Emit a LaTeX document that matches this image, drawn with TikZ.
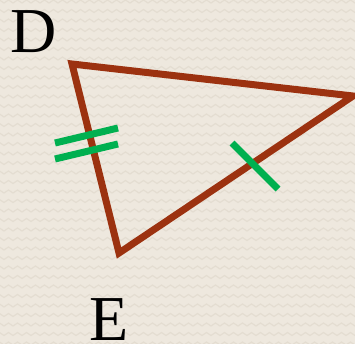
\documentclass[tikz,border=0pt]{standalone}
\usepackage{fontspec}
\setmainfont{Liberation Serif}
\definecolor{bg}{HTML}{EEE8DE}
\definecolor{zig}{HTML}{E4DDD1}
\definecolor{tri}{HTML}{9C3210}
\definecolor{mark}{HTML}{00B050}
\begin{document}
\begin{tikzpicture}[x=1pt,y=-1pt,
  side/.style={draw=tri,line width=7pt,line join=miter},
  tick/.style={draw=mark,line width=7pt},
  lbl/.style={font=\fontsize{64}{64}\selectfont,text=black,inner sep=0pt}]
\fill[bg] (0,0) rectangle (355,344);
\useasboundingbox (0,0) rectangle (355,344);
\begin{scope}
\clip (0,0) rectangle (355,344);
\foreach \r in {0,...,36}{
  \draw[zig,line width=1.2pt] (-5,{\r*9.5+2})
    \foreach \k in {0,...,40}{ -- ({\k*9-0.5},{\r*9.5}) -- ({\k*9+4},{\r*9.5+3})};
}
\end{scope}
\coordinate (D) at (72,64);
\coordinate (R) at (353,96);
\coordinate (E) at (119,253);
\draw[side] (D) -- (R) -- (E) -- cycle;
\coordinate (t1a) at (55,143);
\coordinate (t1b) at (118,128);
\coordinate (t2a) at (55,159);
\coordinate (t2b) at (118,144);
\coordinate (t3a) at (232,143);
\coordinate (t3b) at (278,189);
\draw[tick] (t1a) -- (t1b);
\draw[tick] (t2a) -- (t2b);
\draw[tick] (t3a) -- (t3b);
\node[lbl,anchor=base] (labD) at (34,53) {D};
\node[lbl,anchor=base] (labE) at (109,340) {E};
\end{tikzpicture}
\end{document}
